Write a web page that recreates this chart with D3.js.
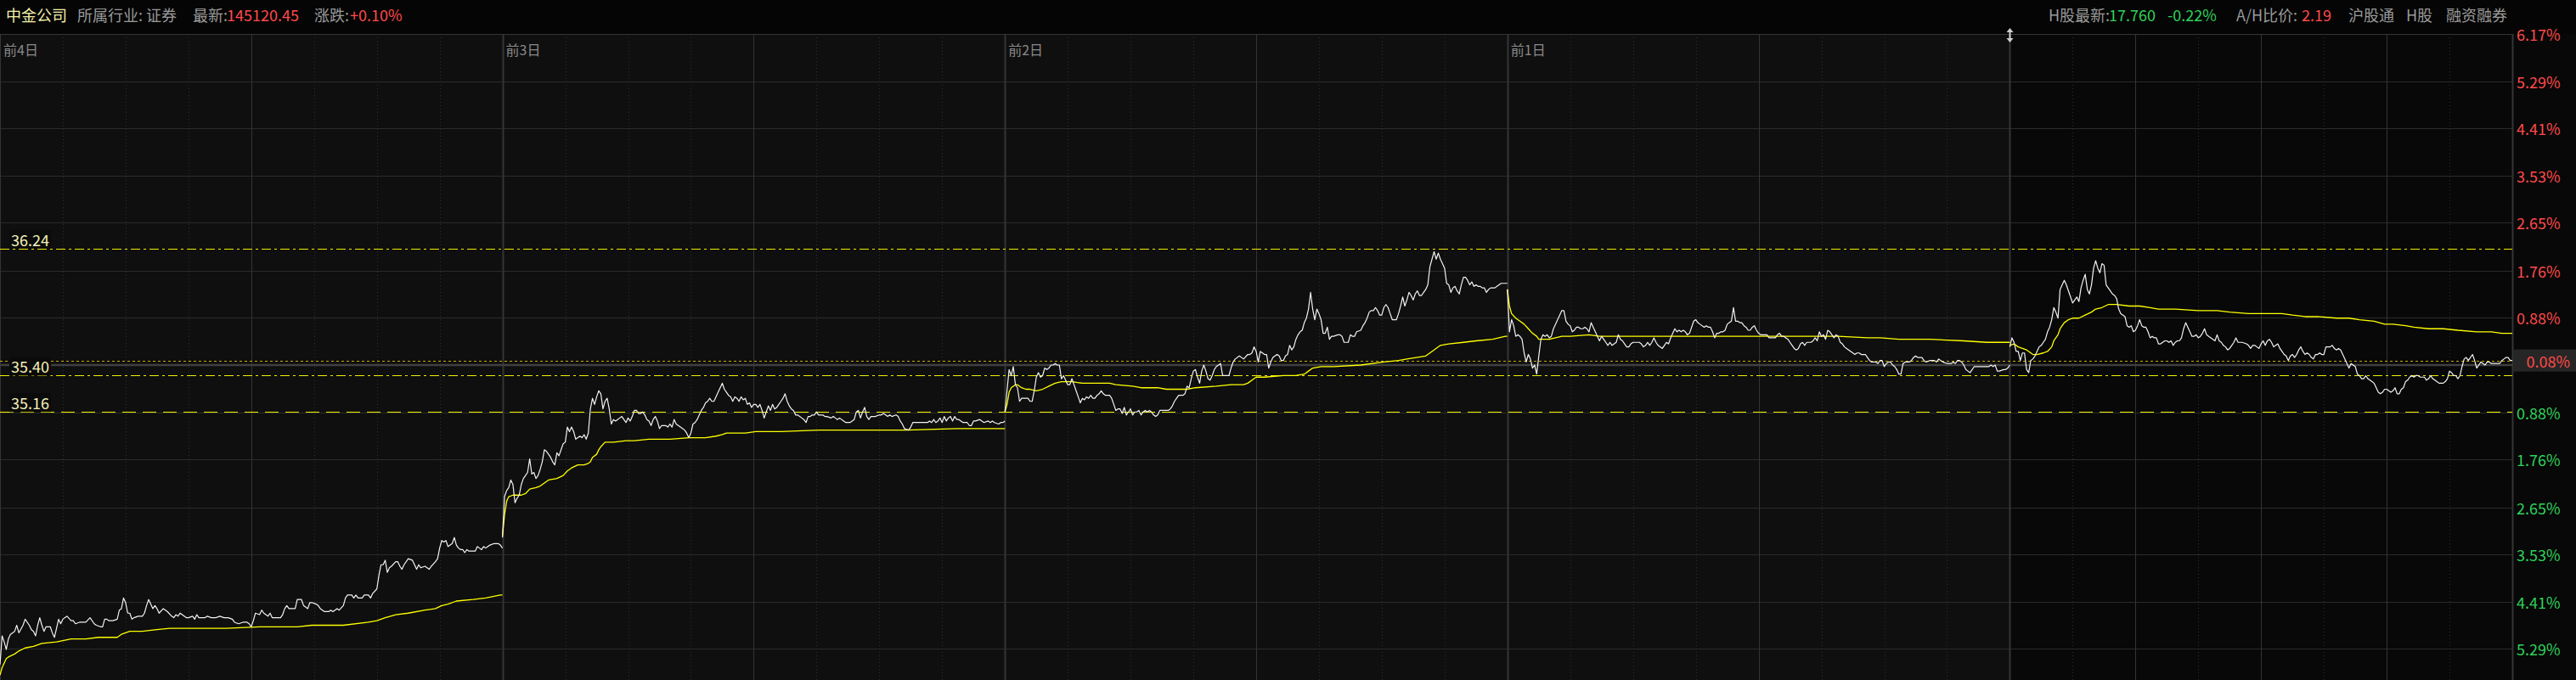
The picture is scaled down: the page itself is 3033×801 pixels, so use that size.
<!DOCTYPE html>
<html><head><meta charset="utf-8">
<script src="https://cdn.jsdelivr.net/npm/d3@7/dist/d3.min.js"></script>
<style>
html,body{margin:0;padding:0;background:#060606;overflow:hidden;}
svg{display:block;}
text{font-family:"Noto Sans CJK SC","Liberation Sans",Arial,sans-serif;}
</style></head><body>
<svg id="chart" width="3033" height="801"></svg>
<script>
// ---------------- DATA ----------------
const basePrice = 35.47;          // previous close (0%)
const pctMax = 6.17;
const pctTicks = [0.88, 1.76, 2.65, 3.53, 4.41, 5.29, 6.17];
const dayLabels = ["前4日", "前3日", "前2日", "前1日", ""];
const refPrices = [36.24, 35.40, 35.16];
const lastPrice = 35.50;
const lastPctLabel = "0.08%";
const headerLeft = [["中金公司","name"],["所属行业: 证券","label"],["最新:","label"],["145120.45","up"],["涨跌:","label"],["+0.10%","up"]];
const headerRight = [["H股最新:","label"],["17.760","down"],["-0.22%","down"],["A/H比价:","label"],["2.19","up"],["沪股通","label"],["H股","label"],["融资融券","label"]];

// [minute of session, price]
const day1Price = [[0,33.49],[1,33.68],[2,33.64],[3,33.59],[4,33.66],[5,33.69],[7,33.71],[8,33.75],[9,33.70],[11,33.75],[12,33.79],[14,33.75],[15,33.72],[16,33.71],[17,33.68],[18,33.75],[19,33.80],[20,33.75],[21,33.71],[22,33.74],[24,33.74],[25,33.70],[26,33.67],[27,33.73],[28,33.79],[29,33.76],[30,33.79],[32,33.81],[34,33.78],[35,33.78],[36,33.76],[38,33.77],[40,33.77],[41,33.77],[43,33.80],[45,33.76],[46,33.75],[48,33.74],[49,33.74],[50,33.79],[51,33.79],[52,33.78],[54,33.78],[56,33.79],[57,33.85],[58,33.86],[59,33.93],[60,33.90],[61,33.83],[62,33.83],[63,33.79],[64,33.80],[66,33.81],[68,33.81],[69,33.83],[70,33.88],[71,33.92],[72,33.89],[73,33.86],[74,33.88],[75,33.86],[76,33.83],[78,33.86],[79,33.85],[80,33.84],[82,33.81],[83,33.80],[84,33.82],[85,33.81],[86,33.83],[88,33.81],[89,33.80],[90,33.80],[92,33.81],[93,33.79],[94,33.82],[95,33.80],[97,33.80],[98,33.80],[99,33.81],[101,33.80],[102,33.80],[103,33.80],[105,33.81],[107,33.80],[108,33.80],[109,33.80],[111,33.79],[112,33.77],[114,33.76],[116,33.77],[118,33.77],[119,33.76],[120,33.74],[121,33.78],[122,33.83],[124,33.82],[125,33.85],[126,33.83],[128,33.81],[129,33.83],[130,33.80],[132,33.80],[134,33.80],[135,33.82],[136,33.86],[137,33.88],[138,33.86],[139,33.86],[141,33.86],[142,33.92],[144,33.92],[145,33.88],[147,33.86],[148,33.90],[149,33.90],[151,33.89],[152,33.88],[153,33.86],[155,33.84],[157,33.84],[158,33.85],[159,33.84],[161,33.86],[162,33.85],[164,33.88],[165,33.93],[166,33.95],[168,33.95],[169,33.93],[170,33.95],[171,33.93],[173,33.93],[174,33.95],[176,33.95],[177,33.93],[178,33.96],[180,33.99],[181,34.08],[182,34.15],[183,34.15],[184,34.18],[185,34.10],[186,34.13],[187,34.14],[189,34.17],[190,34.17],[191,34.14],[192,34.12],[193,34.15],[195,34.19],[197,34.18],[198,34.15],[199,34.12],[200,34.15],[201,34.13],[203,34.14],[205,34.12],[206,34.14],[208,34.17],[209,34.19],[210,34.26],[211,34.31],[212,34.30],[213,34.31],[214,34.27],[215,34.28],[216,34.29],[217,34.33],[218,34.28],[219,34.26],[220,34.25],[221,34.25],[222,34.23],[223,34.25],[224,34.24],[226,34.24],[227,34.24],[228,34.27],[229,34.26],[230,34.25],[231,34.27],[232,34.26],[233,34.27],[234,34.28],[236,34.29],[237,34.29],[238,34.29],[239,34.28],[240,34.26]];
const day1Avg = [[0,33.42],[1,33.47],[3,33.53],[4,33.54],[7,33.56],[9,33.58],[12,33.60],[16,33.61],[20,33.63],[27,33.64],[34,33.66],[41,33.66],[47,33.67],[56,33.67],[58,33.69],[62,33.71],[68,33.71],[74,33.72],[81,33.73],[95,33.73],[108,33.73],[124,33.74],[142,33.74],[149,33.75],[164,33.75],[176,33.77],[180,33.78],[184,33.80],[189,33.82],[195,33.83],[203,33.85],[208,33.86],[211,33.88],[214,33.89],[218,33.91],[226,33.92],[232,33.93],[239,33.95],[240,33.95]];

const day2Price = [[0,34.33],[1,34.60],[2,34.64],[3,34.66],[4,34.71],[5,34.68],[6,34.56],[7,34.59],[8,34.61],[9,34.68],[10,34.72],[11,34.74],[12,34.76],[13,34.85],[14,34.75],[15,34.76],[16,34.72],[17,34.74],[18,34.78],[19,34.83],[20,34.91],[21,34.90],[22,34.88],[23,34.86],[24,34.83],[25,34.81],[26,34.89],[27,34.87],[28,34.91],[29,34.95],[30,34.96],[31,35.06],[32,35.03],[33,35.06],[34,35.03],[35,34.98],[36,34.99],[37,35.00],[38,34.99],[39,35.01],[40,34.98],[41,35.02],[42,35.18],[43,35.25],[44,35.21],[45,35.26],[46,35.30],[47,35.28],[48,35.18],[49,35.23],[50,35.25],[51,35.18],[52,35.08],[53,35.11],[54,35.10],[55,35.11],[56,35.12],[57,35.13],[58,35.11],[59,35.09],[60,35.12],[61,35.10],[62,35.13],[63,35.17],[64,35.17],[65,35.15],[66,35.15],[67,35.16],[68,35.14],[69,35.11],[70,35.10],[71,35.07],[72,35.11],[73,35.13],[74,35.10],[75,35.05],[76,35.07],[78,35.07],[79,35.06],[80,35.08],[81,35.06],[82,35.11],[83,35.08],[84,35.07],[86,35.05],[87,35.04],[88,35.02],[89,34.99],[90,35.02],[91,35.08],[92,35.09],[93,35.11],[94,35.14],[95,35.17],[96,35.19],[97,35.22],[98,35.23],[99,35.25],[100,35.23],[101,35.23],[102,35.26],[103,35.29],[104,35.32],[105,35.35],[106,35.31],[107,35.29],[108,35.27],[109,35.26],[110,35.23],[111,35.26],[112,35.25],[113,35.23],[114,35.26],[115,35.24],[116,35.25],[117,35.21],[118,35.22],[119,35.19],[120,35.21],[121,35.21],[122,35.19],[123,35.21],[124,35.17],[125,35.12],[126,35.16],[127,35.20],[128,35.17],[129,35.21],[130,35.18],[131,35.19],[132,35.21],[133,35.23],[134,35.25],[135,35.28],[136,35.23],[137,35.20],[138,35.18],[139,35.17],[140,35.14],[141,35.14],[143,35.12],[144,35.11],[145,35.09],[146,35.13],[147,35.13],[148,35.14],[149,35.14],[150,35.16],[151,35.14],[153,35.14],[154,35.13],[155,35.13],[157,35.12],[158,35.13],[159,35.12],[160,35.11],[161,35.12],[163,35.10],[164,35.09],[166,35.09],[167,35.10],[168,35.11],[169,35.16],[170,35.17],[171,35.12],[172,35.16],[173,35.19],[174,35.13],[175,35.11],[176,35.13],[177,35.13],[178,35.13],[180,35.14],[181,35.14],[182,35.15],[184,35.13],[185,35.14],[186,35.13],[188,35.14],[189,35.13],[190,35.10],[191,35.08],[192,35.05],[194,35.04],[195,35.06],[196,35.09],[197,35.09],[199,35.09],[201,35.09],[203,35.09],[204,35.10],[205,35.09],[206,35.11],[207,35.09],[208,35.10],[209,35.12],[210,35.09],[211,35.13],[212,35.10],[213,35.12],[214,35.13],[215,35.10],[216,35.13],[217,35.11],[218,35.11],[220,35.09],[221,35.09],[222,35.09],[223,35.07],[224,35.07],[225,35.10],[226,35.10],[228,35.11],[229,35.10],[230,35.09],[232,35.10],[233,35.09],[234,35.10],[235,35.09],[237,35.08],[238,35.09],[239,35.09],[240,35.10]];
const day2Avg = [[0,34.34],[1,34.48],[2,34.57],[3,34.60],[5,34.61],[7,34.61],[9,34.61],[11,34.62],[13,34.65],[16,34.66],[18,34.67],[20,34.69],[22,34.71],[26,34.72],[29,34.74],[31,34.77],[33,34.79],[36,34.81],[39,34.81],[41,34.82],[42,34.83],[43,34.86],[45,34.88],[46,34.91],[47,34.93],[49,34.96],[53,34.96],[59,34.97],[63,34.97],[70,34.98],[80,34.98],[89,34.99],[97,34.99],[102,35.00],[105,35.01],[107,35.02],[116,35.02],[121,35.03],[133,35.03],[151,35.04],[176,35.04],[193,35.04],[217,35.05],[240,35.05]];

const day3Price = [[0,35.16],[1,35.30],[2,35.44],[3,35.40],[4,35.46],[5,35.34],[6,35.32],[7,35.23],[8,35.25],[10,35.25],[11,35.25],[12,35.23],[13,35.23],[14,35.30],[15,35.39],[16,35.42],[17,35.39],[18,35.40],[19,35.45],[20,35.44],[21,35.45],[22,35.47],[23,35.47],[24,35.48],[25,35.47],[26,35.47],[27,35.38],[28,35.40],[29,35.37],[30,35.34],[31,35.34],[32,35.38],[33,35.34],[34,35.30],[35,35.26],[36,35.22],[37,35.25],[38,35.24],[39,35.26],[40,35.25],[41,35.27],[42,35.25],[43,35.25],[44,35.27],[45,35.28],[46,35.30],[47,35.28],[48,35.27],[50,35.27],[51,35.25],[52,35.21],[53,35.17],[54,35.18],[55,35.18],[56,35.15],[57,35.19],[58,35.14],[59,35.16],[60,35.18],[61,35.14],[62,35.16],[63,35.16],[64,35.17],[65,35.14],[66,35.16],[67,35.17],[68,35.16],[69,35.17],[70,35.16],[71,35.14],[72,35.13],[73,35.14],[74,35.17],[75,35.17],[76,35.17],[78,35.17],[79,35.18],[80,35.20],[81,35.23],[82,35.25],[83,35.27],[85,35.27],[86,35.28],[87,35.33],[88,35.32],[89,35.38],[90,35.43],[91,35.44],[92,35.39],[93,35.35],[94,35.43],[95,35.47],[96,35.43],[97,35.38],[98,35.37],[99,35.40],[100,35.44],[101,35.46],[102,35.47],[103,35.48],[104,35.40],[105,35.40],[106,35.40],[107,35.40],[108,35.45],[109,35.49],[110,35.51],[112,35.53],[114,35.51],[116,35.54],[117,35.54],[118,35.55],[119,35.59],[120,35.56],[121,35.49],[122,35.56],[123,35.55],[124,35.54],[125,35.54],[126,35.45],[127,35.49],[128,35.52],[129,35.53],[130,35.54],[131,35.53],[132,35.50],[133,35.50],[134,35.53],[135,35.54],[136,35.60],[137,35.57],[138,35.59],[139,35.64],[140,35.67],[141,35.69],[142,35.70],[143,35.75],[144,35.78],[145,35.84],[146,35.95],[147,35.84],[148,35.77],[149,35.84],[150,35.81],[151,35.77],[152,35.68],[153,35.68],[154,35.72],[155,35.64],[156,35.66],[157,35.66],[159,35.67],[160,35.67],[161,35.66],[162,35.62],[164,35.62],[165,35.67],[166,35.66],[167,35.66],[168,35.69],[170,35.70],[171,35.73],[172,35.75],[173,35.78],[174,35.82],[175,35.83],[176,35.83],[177,35.85],[178,35.83],[179,35.80],[180,35.80],[181,35.85],[182,35.87],[183,35.85],[184,35.81],[185,35.77],[187,35.77],[188,35.81],[189,35.86],[190,35.92],[191,35.86],[192,35.90],[193,35.95],[194,35.93],[195,35.90],[196,35.94],[197,35.96],[198,35.93],[199,35.93],[200,35.95],[201,35.97],[202,36.00],[203,36.12],[204,36.17],[205,36.22],[206,36.17],[207,36.21],[208,36.17],[209,36.14],[210,36.11],[211,36.01],[212,36.00],[213,35.95],[214,35.98],[215,35.99],[216,35.96],[217,35.94],[218,36.00],[219,36.05],[220,36.05],[221,36.03],[222,36.00],[223,36.02],[224,35.99],[225,36.00],[226,35.99],[227,35.99],[228,35.98],[229,35.98],[230,35.95],[231,35.97],[232,35.98],[234,35.98],[235,35.99],[237,36.01],[238,36.01],[239,36.01],[240,36.01]];
const day3Avg = [[0,35.16],[1,35.21],[2,35.29],[3,35.32],[5,35.34],[6,35.34],[8,35.32],[10,35.31],[12,35.31],[15,35.30],[18,35.31],[21,35.33],[24,35.35],[27,35.36],[30,35.36],[32,35.36],[37,35.35],[45,35.35],[50,35.35],[53,35.34],[61,35.33],[65,35.32],[73,35.32],[77,35.31],[87,35.31],[91,35.32],[101,35.33],[108,35.34],[114,35.34],[116,35.35],[119,35.38],[120,35.39],[124,35.39],[133,35.40],[139,35.40],[143,35.41],[145,35.43],[147,35.45],[151,35.46],[157,35.46],[170,35.47],[181,35.49],[188,35.50],[192,35.51],[201,35.53],[204,35.56],[208,35.60],[212,35.61],[219,35.62],[225,35.63],[233,35.64],[239,35.66],[240,35.66]];

const day4Price = [[0,35.97],[1,35.69],[2,35.77],[3,35.73],[4,35.66],[5,35.67],[6,35.66],[7,35.64],[8,35.55],[9,35.49],[10,35.54],[11,35.51],[12,35.45],[13,35.47],[14,35.41],[15,35.53],[16,35.64],[17,35.67],[18,35.66],[19,35.67],[20,35.65],[21,35.66],[22,35.71],[23,35.74],[24,35.77],[25,35.80],[26,35.83],[27,35.83],[28,35.76],[29,35.74],[30,35.73],[31,35.69],[32,35.70],[33,35.72],[34,35.72],[35,35.71],[36,35.71],[37,35.72],[38,35.71],[39,35.69],[40,35.75],[41,35.72],[42,35.69],[43,35.66],[44,35.63],[45,35.66],[46,35.64],[47,35.62],[48,35.60],[49,35.62],[50,35.60],[51,35.61],[52,35.62],[53,35.67],[54,35.64],[55,35.63],[56,35.61],[57,35.59],[58,35.59],[59,35.61],[60,35.62],[62,35.62],[63,35.62],[64,35.61],[65,35.59],[66,35.60],[67,35.62],[68,35.60],[69,35.62],[70,35.65],[71,35.62],[72,35.60],[74,35.58],[75,35.60],[76,35.62],[77,35.61],[78,35.65],[79,35.68],[80,35.71],[81,35.69],[82,35.70],[83,35.69],[84,35.70],[85,35.69],[86,35.67],[87,35.68],[88,35.72],[89,35.76],[90,35.77],[91,35.75],[92,35.74],[94,35.72],[95,35.73],[96,35.72],[97,35.72],[98,35.69],[99,35.65],[100,35.68],[101,35.68],[102,35.69],[103,35.69],[104,35.70],[105,35.74],[106,35.75],[107,35.76],[108,35.85],[109,35.76],[110,35.76],[111,35.75],[112,35.75],[113,35.73],[114,35.72],[115,35.70],[116,35.70],[117,35.72],[118,35.73],[119,35.70],[120,35.68],[121,35.67],[122,35.67],[123,35.67],[124,35.67],[125,35.65],[126,35.65],[128,35.65],[129,35.67],[130,35.68],[131,35.66],[132,35.66],[133,35.65],[134,35.64],[135,35.62],[136,35.60],[137,35.58],[138,35.57],[139,35.58],[140,35.61],[141,35.62],[142,35.60],[143,35.62],[144,35.62],[145,35.62],[146,35.63],[147,35.65],[148,35.63],[149,35.69],[150,35.66],[151,35.67],[152,35.64],[153,35.70],[154,35.69],[155,35.67],[156,35.65],[157,35.67],[158,35.66],[159,35.62],[160,35.61],[161,35.59],[162,35.58],[164,35.56],[165,35.55],[166,35.54],[167,35.55],[168,35.55],[169,35.54],[170,35.54],[171,35.54],[172,35.52],[173,35.50],[174,35.49],[176,35.49],[177,35.48],[178,35.50],[179,35.50],[180,35.46],[181,35.48],[182,35.49],[183,35.49],[184,35.47],[185,35.46],[186,35.44],[187,35.41],[188,35.41],[189,35.48],[190,35.49],[191,35.49],[192,35.49],[193,35.50],[194,35.52],[195,35.53],[196,35.52],[197,35.52],[198,35.52],[199,35.50],[200,35.49],[202,35.50],[203,35.50],[204,35.50],[205,35.49],[206,35.51],[207,35.50],[208,35.49],[210,35.48],[211,35.48],[212,35.48],[213,35.49],[214,35.48],[215,35.50],[216,35.50],[217,35.49],[218,35.47],[219,35.44],[220,35.43],[221,35.42],[222,35.44],[223,35.46],[225,35.46],[226,35.46],[227,35.46],[228,35.46],[229,35.46],[230,35.46],[231,35.47],[232,35.46],[233,35.47],[234,35.43],[235,35.43],[237,35.44],[238,35.44],[239,35.45],[240,35.47]];
const day4Avg = [[0,35.97],[1,35.86],[2,35.81],[4,35.78],[6,35.76],[8,35.74],[10,35.71],[12,35.68],[14,35.66],[15,35.64],[20,35.64],[23,35.65],[26,35.66],[30,35.66],[39,35.67],[44,35.66],[52,35.66],[60,35.66],[72,35.66],[84,35.66],[97,35.66],[109,35.66],[121,35.66],[141,35.66],[158,35.66],[172,35.65],[178,35.65],[187,35.64],[202,35.64],[218,35.63],[229,35.62],[235,35.62],[240,35.62]];

const day5Price = [[0,35.59],[1,35.65],[2,35.62],[3,35.56],[4,35.56],[5,35.50],[6,35.55],[7,35.55],[8,35.44],[9,35.42],[10,35.50],[11,35.51],[12,35.53],[13,35.56],[14,35.59],[15,35.60],[16,35.62],[17,35.64],[18,35.69],[19,35.72],[20,35.77],[21,35.85],[22,35.82],[23,35.78],[24,35.97],[25,36.00],[26,36.03],[27,36.00],[28,35.96],[29,35.92],[30,35.88],[31,35.90],[32,35.92],[33,35.89],[34,35.98],[35,36.03],[36,36.07],[37,35.97],[38,35.94],[39,36.00],[40,36.11],[41,36.16],[42,36.11],[43,36.08],[44,36.14],[45,36.13],[46,36.00],[47,35.98],[48,35.96],[49,35.94],[50,35.93],[51,35.91],[52,35.84],[53,35.81],[54,35.80],[55,35.79],[56,35.73],[57,35.72],[58,35.73],[59,35.69],[60,35.70],[61,35.73],[62,35.77],[63,35.73],[64,35.72],[65,35.72],[66,35.69],[67,35.65],[68,35.66],[69,35.65],[70,35.65],[71,35.61],[72,35.61],[73,35.62],[74,35.63],[75,35.63],[76,35.62],[77,35.63],[78,35.60],[79,35.62],[80,35.63],[81,35.63],[82,35.65],[83,35.71],[84,35.75],[85,35.72],[86,35.69],[87,35.66],[88,35.66],[89,35.67],[90,35.65],[91,35.66],[92,35.68],[93,35.71],[94,35.67],[95,35.66],[96,35.65],[97,35.64],[98,35.63],[99,35.67],[100,35.63],[101,35.62],[102,35.60],[103,35.59],[104,35.57],[105,35.58],[106,35.60],[107,35.62],[108,35.65],[109,35.62],[110,35.62],[111,35.62],[113,35.61],[114,35.60],[115,35.58],[116,35.60],[117,35.60],[118,35.59],[119,35.58],[120,35.61],[121,35.63],[122,35.60],[123,35.63],[124,35.64],[125,35.62],[126,35.59],[127,35.60],[128,35.61],[129,35.58],[130,35.56],[131,35.54],[132,35.53],[133,35.50],[134,35.53],[135,35.54],[136,35.52],[137,35.54],[138,35.57],[139,35.59],[140,35.56],[141,35.54],[142,35.55],[143,35.54],[144,35.52],[145,35.51],[146,35.54],[147,35.54],[148,35.55],[149,35.54],[150,35.54],[151,35.59],[152,35.59],[153,35.59],[154,35.60],[155,35.58],[156,35.57],[157,35.58],[158,35.57],[159,35.54],[160,35.51],[161,35.48],[162,35.45],[163,35.48],[164,35.47],[165,35.46],[166,35.41],[167,35.40],[168,35.38],[169,35.38],[170,35.40],[171,35.38],[172,35.37],[173,35.36],[174,35.35],[175,35.32],[176,35.29],[177,35.28],[178,35.29],[179,35.31],[180,35.31],[181,35.30],[182,35.29],[183,35.30],[184,35.32],[185,35.28],[186,35.28],[187,35.31],[188,35.32],[189,35.36],[190,35.37],[191,35.39],[192,35.40],[193,35.39],[194,35.40],[195,35.40],[196,35.39],[197,35.39],[198,35.39],[199,35.37],[200,35.38],[201,35.40],[202,35.38],[203,35.37],[204,35.36],[205,35.35],[207,35.35],[208,35.36],[209,35.38],[210,35.43],[211,35.42],[212,35.40],[213,35.40],[214,35.38],[215,35.40],[216,35.46],[217,35.51],[218,35.52],[219,35.50],[220,35.52],[221,35.54],[222,35.50],[223,35.45],[224,35.47],[225,35.49],[226,35.48],[227,35.47],[228,35.49],[229,35.49],[230,35.48],[231,35.48],[232,35.48],[233,35.48],[234,35.48],[235,35.50],[236,35.51],[237,35.52],[238,35.52],[239,35.50],[240,35.50]];
const day5Avg = [[0,35.60],[2,35.61],[4,35.59],[6,35.58],[8,35.57],[10,35.55],[11,35.54],[13,35.54],[16,35.55],[18,35.56],[20,35.59],[21,35.63],[23,35.67],[24,35.71],[26,35.75],[28,35.77],[30,35.78],[33,35.78],[36,35.80],[39,35.82],[41,35.84],[44,35.85],[47,35.87],[51,35.87],[57,35.86],[62,35.86],[67,35.85],[71,35.84],[79,35.84],[90,35.83],[99,35.83],[105,35.82],[114,35.81],[120,35.81],[130,35.81],[135,35.80],[141,35.79],[147,35.79],[156,35.78],[162,35.78],[167,35.77],[174,35.76],[179,35.74],[183,35.74],[189,35.73],[193,35.72],[200,35.71],[207,35.71],[214,35.70],[223,35.69],[230,35.69],[235,35.68],[240,35.68]];

const priceDays = [day1Price, day2Price, day3Price, day4Price, day5Price];
const avgDays = [day1Avg, day2Avg, day3Avg, day4Avg, day5Avg];

// ---------------- LAYOUT ----------------
const SW = 3033, SH = 801;
const plotL = 0, plotR = 2958, plotT = 40, plotB = 820;
const minutesPerDay = 240, nDays = 5;
const headerLeftX = [7, 91, 227, 267, 370, 412];
const headerRightX = [2412, 2483, 2552, 2633, 2710, 2765, 2833, 2880];
const C = {
  header: "#050505", bgOld: "#0f0f0f", bgToday: "#080808", axisBg: "#080808",
  grid: "#2b2b2b", zero: "#3f3f3f", up: "#ff4a4a", down: "#2fd15a",
  label: "#9a9a9a", name: "#f2f0a8", price: "#f2f2f2", avg: "#ffff00",
  ref: "#f0f000", last: "#c9b000", refText: "#f4f0b8"
};

const svg = d3.select("#chart");
const x = d3.scaleLinear().domain([0, nDays * minutesPerDay]).range([plotL, plotR]);
const y = d3.scaleLinear().domain([basePrice * (1 - pctMax / 100), basePrice * (1 + pctMax / 100)]).range([plotB, plotT]);
const yPct = p => y(basePrice * (1 + p / 100));
const dayX = (d, m) => x(d * minutesPerDay + m);

// backgrounds
svg.append("rect").attr("x", 0).attr("y", 0).attr("width", SW).attr("height", SH).attr("fill", C.header);
svg.append("rect").attr("x", plotL).attr("y", plotT).attr("width", dayX(4, 0) - plotL).attr("height", plotB - plotT).attr("fill", C.bgOld);
svg.append("rect").attr("x", dayX(4, 0)).attr("y", plotT).attr("width", plotR - dayX(4, 0)).attr("height", plotB - plotT).attr("fill", C.bgToday);
svg.append("rect").attr("x", plotR).attr("y", plotT).attr("width", SW - plotR).attr("height", plotB - plotT).attr("fill", C.axisBg);

// horizontal grid
const gGrid = svg.append("g");
const hLevels = [];
pctTicks.forEach(p => { hLevels.push(p); hLevels.push(-p); });
hLevels.forEach(p => {
  const yy = Math.round(yPct(p)) + 0.5;
  gGrid.append("line").attr("x1", plotL).attr("x2", plotR).attr("y1", yy).attr("y2", yy)
    .attr("stroke", C.grid).attr("stroke-width", 1);
});
// vertical grid (every 30 minutes)
for (let k = 0; k <= nDays * 8; k++) {
  const day = Math.floor(k / 8), sub = k % 8;
  const xx = Math.round(x(k * 30)) + 0.5;
  let solid;
  if (sub === 0) solid = true;
  else if (day === 4) solid = (sub % 2 === 0);
  else solid = (sub === 4);
  gGrid.append("line").attr("x1", xx).attr("x2", xx).attr("y1", plotT).attr("y2", plotB)
    .attr("stroke", solid ? "#343434" : "#2e2e2e")
    .attr("stroke-width", (sub === 0 && k > 0) ? 2 : 1)
    .attr("stroke-dasharray", solid ? null : "1,3");
}
// top border
svg.append("line").attr("x1", 0).attr("x2", plotR).attr("y1", plotT + 0.5).attr("y2", plotT + 0.5).attr("stroke", "#353535");

// zero line
svg.append("line").attr("x1", plotL).attr("x2", plotR).attr("y1", y(basePrice)).attr("y2", y(basePrice))
  .attr("stroke", C.zero).attr("stroke-width", 2.5);

// reference lines
const refDash = ["11,4,3,4", "11,4,3,4", "16,8"];
refPrices.forEach((p, i) => {
  const yy = Math.round(y(p)) + 0.5;
  svg.append("line").attr("x1", plotL).attr("x2", plotR).attr("y1", yy).attr("y2", yy)
    .attr("stroke", C.ref).attr("stroke-width", 1.2).attr("stroke-dasharray", refDash[i]);
});
// last price dotted line
{
  const yy = Math.round(y(lastPrice)) + 0.5;
  svg.append("line").attr("x1", plotL).attr("x2", plotR).attr("y1", yy).attr("y2", yy)
    .attr("stroke", C.last).attr("stroke-width", 1).attr("stroke-dasharray", "3,3");
}

// series
const lineGen = d => d3.line().x(p => dayX(d, p[0])).y(p => y(p[1]));
avgDays.forEach((arr, d) => {
  svg.append("path").attr("d", lineGen(d)(arr)).attr("fill", "none")
    .attr("stroke", C.avg).attr("stroke-width", 1.3).attr("stroke-linejoin", "round");
});
priceDays.forEach((arr, d) => {
  svg.append("path").attr("d", lineGen(d)(arr)).attr("fill", "none")
    .attr("stroke", C.price).attr("stroke-width", 1.2).attr("stroke-linejoin", "round");
});

// reference labels on left
refPrices.forEach(p => {
  const yy = y(p) - 11;
  const g = svg.append("g");
  const t = g.append("text").attr("x", 13).attr("y", yy).attr("dominant-baseline", "central")
    .attr("font-size", 18).attr("fill", C.refText).attr("font-family", "'Liberation Sans',Arial,sans-serif")
    .text(p.toFixed(2));
  const w = t.node().getComputedTextLength();
  g.insert("rect", "text").attr("x", 11).attr("y", yy - 11).attr("width", w + 4).attr("height", 22).attr("fill", "#0b0b0b");
});

// day labels
dayLabels.forEach((lab, d) => {
  if (!lab) return;
  svg.append("text").attr("x", dayX(d, 0) + 4).attr("y", 58).attr("dominant-baseline", "central")
    .attr("font-size", 16).attr("fill", "#8a8a8a").text(lab);
});

// right axis labels (only those inside the visible window)
const gAx = svg.append("g").attr("font-family", "'Liberation Sans',Arial,sans-serif").attr("font-size", 18);
pctTicks.forEach(p => {
  gAx.append("text").attr("x", 2963).attr("y", yPct(p)).attr("dominant-baseline", "central").attr("fill", C.up).text(p.toFixed(2) + "%");
  if (yPct(-p) + 9 < SH) {
    gAx.append("text").attr("x", 2963).attr("y", yPct(-p)).attr("dominant-baseline", "central").attr("fill", C.down).text(p.toFixed(2) + "%");
  }
});
// right border
svg.append("line").attr("x1", plotR + 0.5).attr("x2", plotR + 0.5).attr("y1", plotT).attr("y2", plotB).attr("stroke", "#353535");
// last price box
{
  const yy = y(lastPrice);
  svg.append("rect").attr("x", plotR + 1).attr("y", yy - 13).attr("width", SW - plotR - 1).attr("height", 26).attr("fill", "#262626");
  svg.append("text").attr("x", 3026).attr("y", yy).attr("text-anchor", "end").attr("dominant-baseline", "central")
    .attr("font-family", "'Liberation Sans',Arial,sans-serif").attr("font-size", 18).attr("fill", C.up).text(lastPctLabel);
}

// header
const colorOf = k => k === "name" ? C.name : k === "up" ? C.up : k === "down" ? C.down : C.label;
const hl = svg.append("g").attr("font-size", 18);
headerLeft.forEach((h, i) => {
  hl.append("text").attr("x", headerLeftX[i]).attr("y", 17).attr("dominant-baseline", "central").attr("fill", colorOf(h[1])).text(h[0]);
});
const hr = svg.append("g").attr("font-size", 18);
headerRight.forEach((h, i) => {
  hr.append("text").attr("x", headerRightX[i]).attr("y", 17).attr("dominant-baseline", "central").attr("fill", colorOf(h[1])).text(h[0]);
});

// today's marker (double arrow) at top of today's divider
{
  const mx = Math.round(dayX(4, 0)) + 0.5;
  const gm = svg.append("g").attr("fill", "#cfcfcf").attr("stroke", "#cfcfcf");
  gm.append("line").attr("x1", mx).attr("x2", mx).attr("y1", 36).attr("y2", 47).attr("stroke-width", 2);
  gm.append("path").attr("d", `M${mx-4},38 L${mx},33 L${mx+4},38 Z`).attr("stroke", "none");
  gm.append("path").attr("d", `M${mx-4},45 L${mx},50 L${mx+4},45 Z`).attr("stroke", "none");
}
</script>
</body></html>
